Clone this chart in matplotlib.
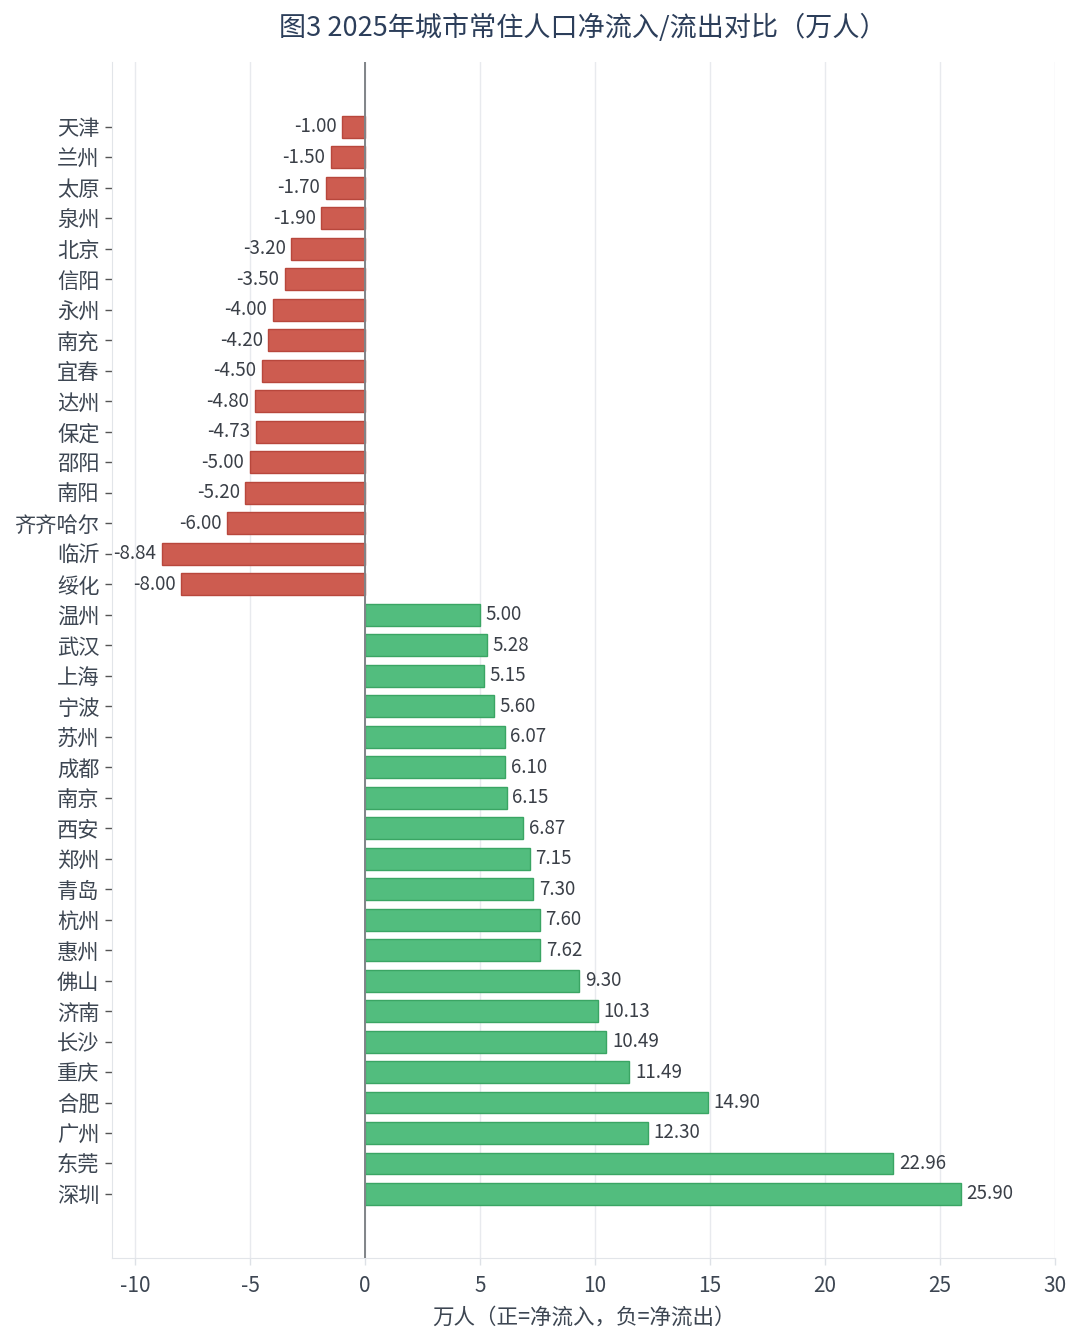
import matplotlib
matplotlib.use("Agg")
import matplotlib.pyplot as plt

plt.rcParams['font.family'] = ['Noto Sans CJK SC', 'DejaVu Sans']

cities = ["天津", "兰州", "太原", "泉州", "北京", "信阳", "永州", "南充", "宜春", "达州",
          "保定", "邵阳", "南阳", "齐齐哈尔", "临沂", "绥化", "温州", "武汉", "上海", "宁波",
          "苏州", "成都", "南京", "西安", "郑州", "青岛", "杭州", "惠州", "佛山", "济南",
          "长沙", "重庆", "合肥", "广州", "东莞", "深圳"]
values = [-1.00, -1.50, -1.70, -1.90, -3.20, -3.50, -4.00, -4.20, -4.50, -4.80,
          -4.73, -5.00, -5.20, -6.00, -8.84, -8.00, 5.00, 5.28, 5.15, 5.60,
          6.07, 6.10, 6.15, 6.87, 7.15, 7.30, 7.60, 7.62, 9.30, 10.13,
          10.49, 11.49, 14.90, 12.30, 22.96, 25.90]
xticks = [-10, -5, 0, 5, 10, 15, 20, 25, 30]

title = "图3 2025年城市常住人口净流入/流出对比（万人）"
xlabel = "万人（正=净流入，负=净流出）"

fig = plt.figure(figsize=(10.8, 13.42), dpi=100)
ax = fig.add_axes([0.1037, 0.0626, 0.8733, 0.8912])

ypos = list(range(len(cities)))
colors = ["#cd5c50" if v < 0 else "#52bd7e" for v in values]
edges = ["#b8473c" if v < 0 else "#3aa564" for v in values]
ax.barh(ypos, values, height=0.72, color=colors, edgecolor=edges, linewidth=1.0, zorder=3)

for y, v in zip(ypos, values):
    if v < 0:
        ax.text(v - 0.25, y, f"{v:.2f}", ha="right", va="center", fontsize=13.5, color="#3a3f47", zorder=4)
    else:
        ax.text(v + 0.25, y, f"{v:.2f}", ha="left", va="center", fontsize=13.5, color="#3a3f47", zorder=4)

ax.axvline(0, color="#808488", linewidth=1.4, zorder=4)

ax.set_xlim(-11, 30)
ax.set_ylim(len(cities) - 1 + 2.1, -2.13)
ax.set_xticks(xticks)
ax.set_xticklabels([str(t) for t in xticks], fontsize=15, color="#3d4652")
ax.set_yticks(ypos)
ax.set_yticklabels(cities, fontsize=15.3, color="#3d4652")
ax.tick_params(axis="y", length=5, width=1, color="#555555", pad=4)
ax.tick_params(axis="x", length=5, width=1, color="#dde1e6", pad=7)

ax.grid(axis="x", color="#e8eaee", linewidth=1, zorder=0)
ax.set_axisbelow(True)
for s in ["top", "right"]:
    ax.spines[s].set_visible(False)
ax.spines["left"].set_color("#e2e5e9")
ax.spines["bottom"].set_color("#e2e5e9")

ax.set_xlabel(xlabel, fontsize=15.5, color="#3d4652", labelpad=7)
fig.text(0.54, 0.979, title, ha="center", va="center", fontsize=19.5, color="#2c3e5a")

fig.savefig("out.png", dpi=100, facecolor="white")
